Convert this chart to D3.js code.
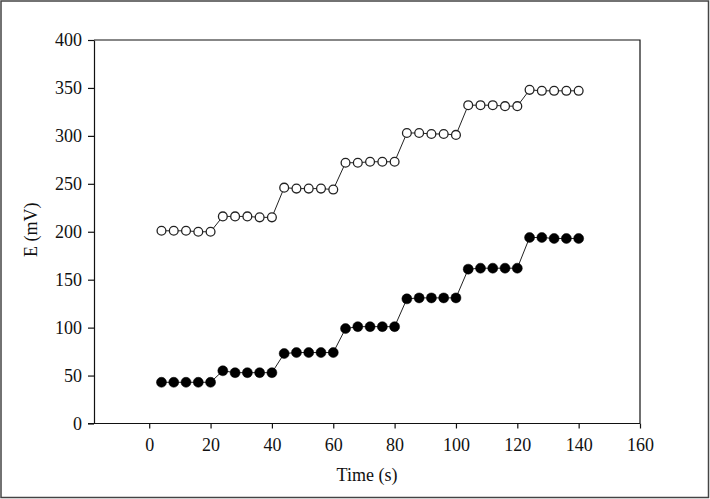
<!DOCTYPE html>
<html>
<head>
<meta charset="utf-8">
<script src="https://cdn.jsdelivr.net/npm/d3@7"></script>
<style>
  html, body { margin: 0; padding: 0; background: #fff; }
  svg { display: block; }
  text { font-family: "Liberation Serif", "Times New Roman", serif; fill: #111; }
</style>
</head>
<body>
<svg id="chart" width="710" height="499"></svg>
<script>
// Data
const times = [4, 8, 12, 16, 20, 24, 28, 32, 36, 40, 44, 48, 52, 56, 60, 64, 68, 72, 76, 80,
               84, 88, 92, 96, 100, 104, 108, 112, 116, 120, 124, 128, 132, 136, 140];
const openSeries = [201, 201, 201, 200, 200,
                    216, 216, 216, 215, 215,
                    246, 245, 245, 245, 244,
                    272, 272, 273, 273, 273,
                    303, 303, 302, 302, 301,
                    332, 332, 332, 331, 331,
                    348, 347, 347, 347, 347];
const filledSeries = [43, 43, 43, 43, 43,
                      55, 53, 53, 53, 53,
                      73, 74, 74, 74, 74,
                      99, 101, 101, 101, 101,
                      130, 131, 131, 131, 131,
                      161, 162, 162, 162, 162,
                      194, 194, 193, 193, 193];
const xTicks = [0, 20, 40, 60, 80, 100, 120, 140, 160];
const yTicks = [0, 50, 100, 150, 200, 250, 300, 350, 400];
const xLabel = "Time (s)";
const yLabel = "E (mV)";

const svg = d3.select("#chart");
const W = 710, H = 499;
const plot = { left: 94, right: 640, top: 40, bottom: 423.5 };

// outer frame
svg.append("rect")
  .attr("x", 1).attr("y", 1).attr("width", W - 2.5).attr("height", H - 2.5)
  .attr("fill", "none").attr("stroke", "#444").attr("stroke-width", 1.5);

const x = d3.scaleLinear().domain([-18, 160]).range([plot.left, plot.right]);
const y = d3.scaleLinear().domain([0, 400]).range([plot.bottom, plot.top]);

// plot box (top + right)
svg.append("path")
  .attr("d", `M${plot.left},${plot.top}H${plot.right}V${plot.bottom}`)
  .attr("fill", "none").attr("stroke", "#111").attr("stroke-width", 1.2);

const xAxis = svg.append("g")
  .attr("transform", `translate(0,${plot.bottom})`)
  .call(d3.axisBottom(x).tickValues(xTicks).tickSize(5).tickSizeOuter(0).tickPadding(10));
const yAxis = svg.append("g")
  .attr("transform", `translate(${plot.left},0)`)
  .call(d3.axisLeft(y).tickValues(yTicks).tickSize(6).tickSizeOuter(0).tickPadding(6));

[xAxis, yAxis].forEach(g => {
  g.select(".domain").attr("stroke", "#111").attr("stroke-width", 1.2);
  g.selectAll(".tick line").attr("stroke", "#111").attr("stroke-width", 1.2);
  g.selectAll(".tick text")
    .style("font-family", '"Liberation Serif", "Times New Roman", serif')
    .style("font-size", "18px").attr("fill", "#111");
});
// extend x domain line to left tick overlap
xAxis.select(".domain").attr("d", `M${plot.left - 6},0H${plot.right}`);

// axis labels
svg.append("text")
  .attr("x", (plot.left + plot.right) / 2).attr("y", 481)
  .attr("text-anchor", "middle").style("font-size", "18px")
  .text(xLabel);
svg.append("text")
  .attr("transform", `translate(37,${(plot.top + plot.bottom) / 2 - 2}) rotate(-90)`)
  .attr("text-anchor", "middle").style("font-size", "18px")
  .text(yLabel);

const line = d3.line().x(d => x(d[0])).y(d => y(d[1]));
const openData = times.map((t, i) => [t, openSeries[i]]);
const filledData = times.map((t, i) => [t, filledSeries[i]]);

[openData, filledData].forEach(data => {
  svg.append("path").datum(data)
    .attr("d", line).attr("fill", "none")
    .attr("stroke", "#222").attr("stroke-width", 1);
});

svg.append("g").selectAll("circle").data(openData).join("circle")
  .attr("cx", d => x(d[0])).attr("cy", d => y(d[1])).attr("r", 4.4)
  .attr("fill", "#fff").attr("stroke", "#222").attr("stroke-width", 1.3);

svg.append("g").selectAll("circle").data(filledData).join("circle")
  .attr("cx", d => x(d[0])).attr("cy", d => y(d[1])).attr("r", 5)
  .attr("fill", "#000").attr("stroke", "#000").attr("stroke-width", 0.5);
</script>
</body>
</html>
